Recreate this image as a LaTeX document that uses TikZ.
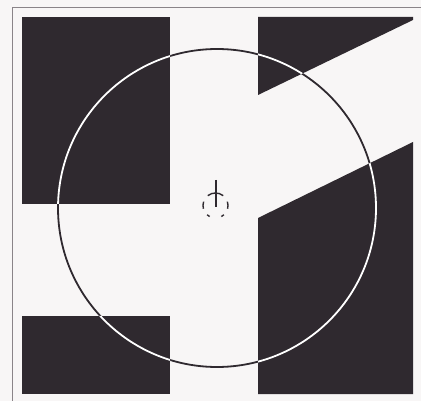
\documentclass[tikz,border=0pt]{standalone}
\begin{document}
\begin{tikzpicture}[x=1pt,y=-1pt,
  blk/.style={fill=darkfill,draw=none},
  ring/.style={line width=1.8pt},
  sym/.style={line width=1.4pt,draw=darkfill}]
\definecolor{darkfill}{HTML}{2F292F}
\definecolor{bgc}{HTML}{F8F6F6}
\definecolor{framec}{HTML}{8A8488}
\fill[bgc] (0,0) rectangle (421,401);
\useasboundingbox (0,0) rectangle (421,401);
% frame
\draw[framec,line width=0.9pt] (12,401) -- (12,7) -- (421,7);
% dark shapes
\fill[blk] (22,17) rectangle (170,204);
\fill[blk] (22,316) rectangle (170,394);
\fill[blk] (258,17) -- (413,17) -- (413,20) -- (258,95) -- cycle;
\fill[blk] (258,218) -- (413,142) -- (413,394) -- (258,394) -- cycle;
% circle (inverted colours)
\coordinate (c) at (217,208);
\draw[ring,darkfill] (c) circle[radius=159];
\begin{scope}
  \clip (22,17) rectangle (170,204)
        (22,316) rectangle (170,394)
        (258,17) -- (413,17) -- (413,20) -- (258,95) -- cycle
        (258,218) -- (413,142) -- (413,394) -- (258,394) -- cycle;
  \draw[ring,white] (c) circle[radius=159];
\end{scope}
% centre symbol
\coordinate (s) at (215.5,205.5);
\draw[sym] (216,180) -- (216,207);
\draw[sym] (s) ++(165:12.5) arc[start angle=165,end angle=198,radius=12.5];
\draw[sym] (s) ++(-18:12.5) arc[start angle=-18,end angle=15,radius=12.5];
\draw[sym] (s) ++(232:12.5) arc[start angle=232,end angle=308,radius=12.5];
\draw[sym] (s) ++(48:12.5) arc[start angle=48,end angle=62,radius=12.5];
\draw[sym] (s) ++(118:12.5) arc[start angle=118,end angle=132,radius=12.5];
\end{tikzpicture}
\end{document}
